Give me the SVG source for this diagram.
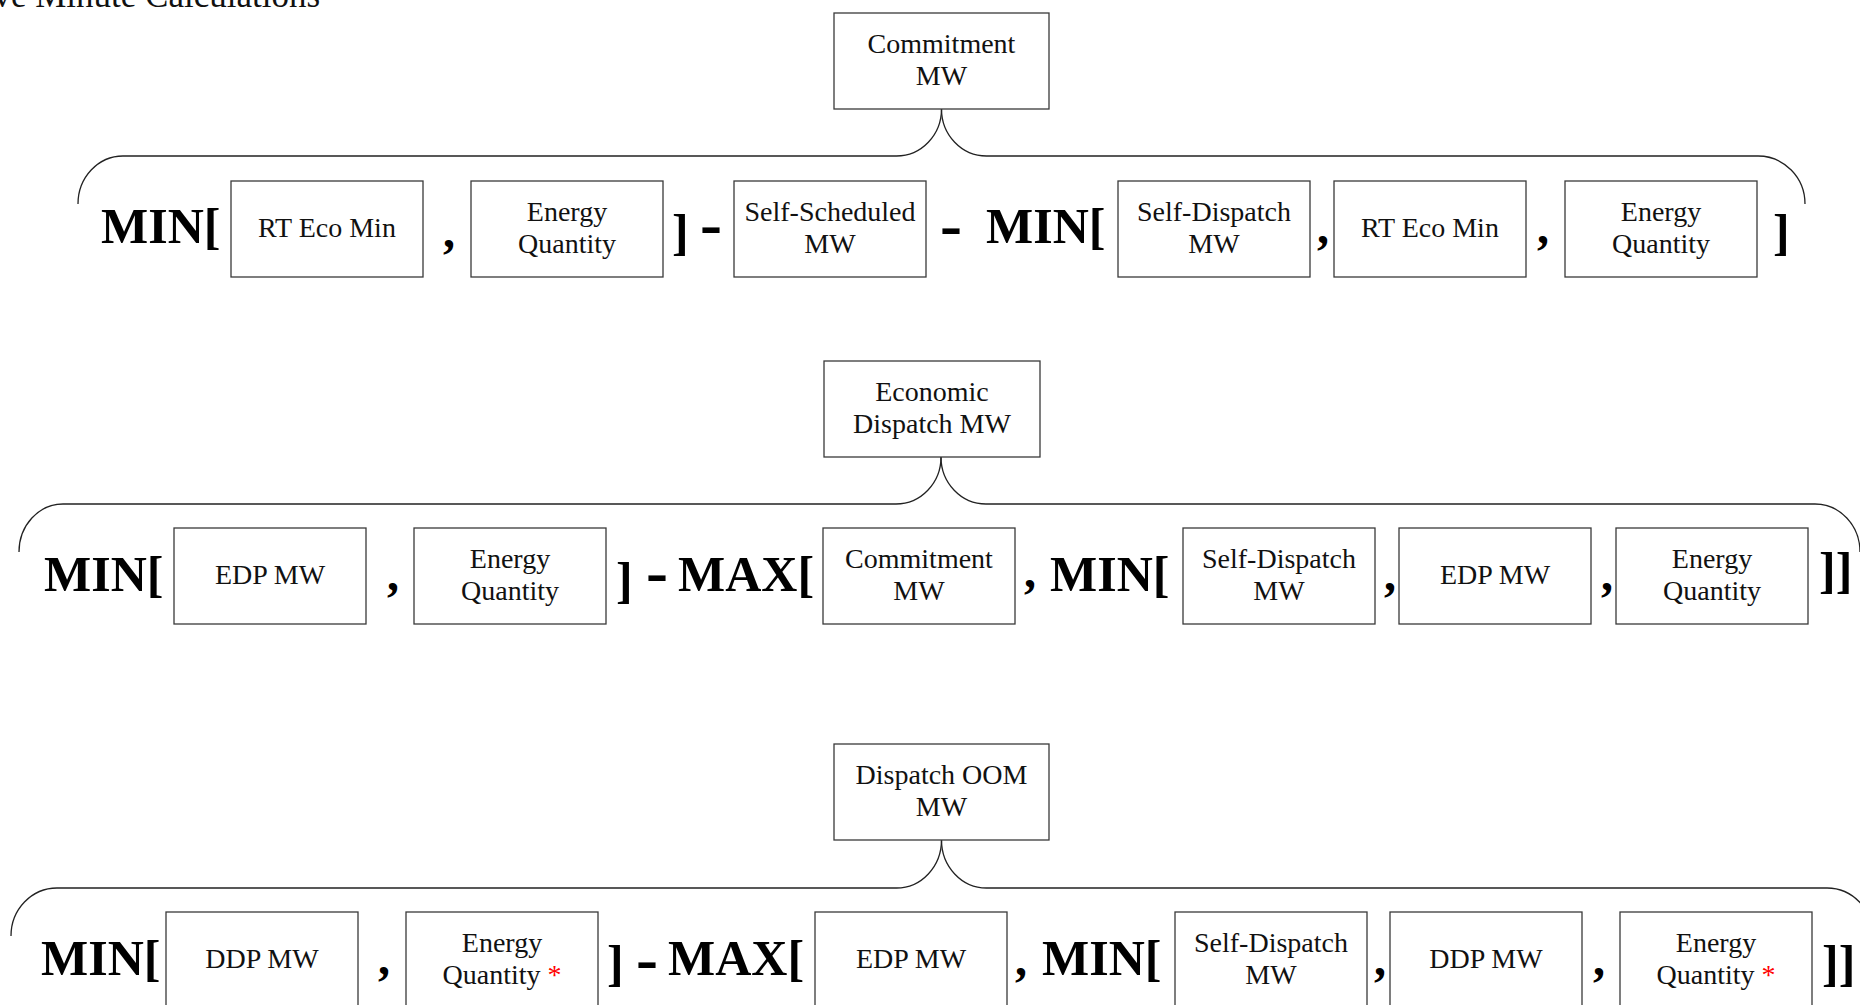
<svg xmlns="http://www.w3.org/2000/svg" width="1860" height="1005" viewBox="0 0 1860 1005">
  <style>
    .box { fill: #ffffff; stroke: #3a3a3a; stroke-width: 1.3; }
    .lbl { font-family: "Liberation Serif", "Times New Roman", serif; font-size: 28px; text-anchor: middle; fill: #111111; }
    .op { font-family: "Liberation Serif", "Times New Roman", serif; font-weight: bold; font-size: 50px; fill: #000000; }
    .dash { font-family: "Liberation Serif", "Times New Roman", serif; font-weight: bold; font-size: 66px; fill: #000000; }
    .cm { font-family: "Liberation Serif", "Times New Roman", serif; font-weight: bold; font-size: 48px; fill: #000000; }
    .brace { fill: none; stroke: #222222; stroke-width: 1.3; }
    .star { fill: #ff0000; }
    .title { font-family: "Liberation Serif", "Times New Roman", serif; font-size: 35px; fill: #111111; text-anchor: end; }
  </style>

  <rect x="0" y="0" width="1860" height="1005" fill="#ffffff"/>

  <text class="title" x="320" y="7">Five Minute Calculations</text>

  <!-- braces joining each result box to its formula row -->
  <g id="connectors">
    <path class="brace" d="M78,204 A45,48 0 0 1 123,156 L896.5,156 A45,47 0 0 0 941.5,109"/>
    <path class="brace" d="M941.5,109 A45,47 0 0 0 986.5,156 L1758,156 A47,48 0 0 1 1805,204"/>

    <path class="brace" d="M19,552 A44,48 0 0 1 63,504 L896,504 A45,47 0 0 0 941,457"/>
    <path class="brace" d="M941,457 A45,47 0 0 0 986,504 L1815,504 A45,48 0 0 1 1860,552"/>

    <path class="brace" d="M11,936 A46,48 0 0 1 57,888 L896.5,888 A45,48 0 0 0 941.5,840"/>
    <path class="brace" d="M941.5,840 A45,48 0 0 0 986.5,888 L1827,888 A46,48 0 0 1 1873,936"/>
  </g>

  <!-- Row 1: Commitment MW -->
  <g id="commitment-mw">
    <rect class="box" x="834" y="13" width="215" height="96"/>
    <text class="lbl" x="941.5" y="53">Commitment</text>
    <text class="lbl" x="941.5" y="85">MW</text>
  </g>
  <g id="r1-rt-eco-min-a">
    <rect class="box" x="231" y="181" width="192" height="96"/>
    <text class="lbl" x="327" y="237">RT Eco Min</text>
  </g>
  <g id="r1-energy-qty-a">
    <rect class="box" x="471" y="181" width="192" height="96"/>
    <text class="lbl" x="567" y="221">Energy</text>
    <text class="lbl" x="567" y="253">Quantity</text>
  </g>
  <g id="r1-self-scheduled">
    <rect class="box" x="734" y="181" width="192" height="96"/>
    <text class="lbl" x="830" y="221">Self-Scheduled</text>
    <text class="lbl" x="830" y="253">MW</text>
  </g>
  <g id="r1-self-dispatch">
    <rect class="box" x="1118" y="181" width="192" height="96"/>
    <text class="lbl" x="1214" y="221">Self-Dispatch</text>
    <text class="lbl" x="1214" y="253">MW</text>
  </g>
  <g id="r1-rt-eco-min-b">
    <rect class="box" x="1334" y="181" width="192" height="96"/>
    <text class="lbl" x="1430" y="237">RT Eco Min</text>
  </g>
  <g id="r1-energy-qty-b">
    <rect class="box" x="1565" y="181" width="192" height="96"/>
    <text class="lbl" x="1661" y="221">Energy</text>
    <text class="lbl" x="1661" y="253">Quantity</text>
  </g>
  <g id="r1-operators">
    <text class="op" x="101" y="243">MIN[</text>
    <text class="cm" x="443" y="247">,</text>
    <text class="op" x="672" y="249">]</text>
    <text class="dash" x="700" y="246">-</text>
    <text class="dash" x="940" y="247">-</text>
    <text class="op" x="986" y="243">MIN[</text>
    <text class="cm" x="1317" y="243">,</text>
    <text class="cm" x="1537" y="243">,</text>
    <text class="op" x="1773" y="249">]</text>
  </g>

  <!-- Row 2: Economic Dispatch MW -->
  <g id="economic-dispatch-mw">
    <rect class="box" x="824" y="361" width="216" height="96"/>
    <text class="lbl" x="932" y="401">Economic</text>
    <text class="lbl" x="932" y="433">Dispatch MW</text>
  </g>
  <g id="r2-edp-a">
    <rect class="box" x="174" y="528" width="192" height="96"/>
    <text class="lbl" x="270" y="584">EDP MW</text>
  </g>
  <g id="r2-energy-qty-a">
    <rect class="box" x="414" y="528" width="192" height="96"/>
    <text class="lbl" x="510" y="568">Energy</text>
    <text class="lbl" x="510" y="600">Quantity</text>
  </g>
  <g id="r2-commitment">
    <rect class="box" x="823" y="528" width="192" height="96"/>
    <text class="lbl" x="919" y="568">Commitment</text>
    <text class="lbl" x="919" y="600">MW</text>
  </g>
  <g id="r2-self-dispatch">
    <rect class="box" x="1183" y="528" width="192" height="96"/>
    <text class="lbl" x="1279" y="568">Self-Dispatch</text>
    <text class="lbl" x="1279" y="600">MW</text>
  </g>
  <g id="r2-edp-b">
    <rect class="box" x="1399" y="528" width="192" height="96"/>
    <text class="lbl" x="1495" y="584">EDP MW</text>
  </g>
  <g id="r2-energy-qty-b">
    <rect class="box" x="1616" y="528" width="192" height="96"/>
    <text class="lbl" x="1712" y="568">Energy</text>
    <text class="lbl" x="1712" y="600">Quantity</text>
  </g>
  <g id="r2-operators">
    <text class="op" x="44" y="591">MIN[</text>
    <text class="cm" x="387" y="590">,</text>
    <text class="op" x="616" y="597">]</text>
    <text class="dash" x="646" y="594">-</text>
    <text class="op" x="678" y="591">MAX[</text>
    <text class="cm" x="1024" y="587">,</text>
    <text class="op" x="1050" y="591">MIN[</text>
    <text class="cm" x="1384" y="590">,</text>
    <text class="cm" x="1601" y="590">,</text>
    <text class="op" x="1819" y="587">]]</text>
  </g>

  <!-- Row 3: Dispatch OOM MW -->
  <g id="dispatch-oom-mw">
    <rect class="box" x="834" y="744" width="215" height="96"/>
    <text class="lbl" x="941.5" y="784">Dispatch OOM</text>
    <text class="lbl" x="941.5" y="816">MW</text>
  </g>
  <g id="r3-ddp-a">
    <rect class="box" x="166" y="912" width="192" height="96"/>
    <text class="lbl" x="262" y="968">DDP MW</text>
  </g>
  <g id="r3-energy-qty-a">
    <rect class="box" x="406" y="912" width="192" height="96"/>
    <text class="lbl" x="502" y="952">Energy</text>
    <text class="lbl" x="502" y="984">Quantity <tspan class="star">*</tspan></text>
  </g>
  <g id="r3-edp">
    <rect class="box" x="815" y="912" width="192" height="96"/>
    <text class="lbl" x="911" y="968">EDP MW</text>
  </g>
  <g id="r3-self-dispatch">
    <rect class="box" x="1175" y="912" width="192" height="96"/>
    <text class="lbl" x="1271" y="952">Self-Dispatch</text>
    <text class="lbl" x="1271" y="984">MW</text>
  </g>
  <g id="r3-ddp-b">
    <rect class="box" x="1390" y="912" width="192" height="96"/>
    <text class="lbl" x="1486" y="968">DDP MW</text>
  </g>
  <g id="r3-energy-qty-b">
    <rect class="box" x="1620" y="912" width="192" height="96"/>
    <text class="lbl" x="1716" y="952">Energy</text>
    <text class="lbl" x="1716" y="984">Quantity <tspan class="star">*</tspan></text>
  </g>
  <g id="r3-operators">
    <text class="op" x="41" y="975">MIN[</text>
    <text class="cm" x="378" y="974">,</text>
    <text class="op" x="607" y="980">]</text>
    <text class="dash" x="636" y="981">-</text>
    <text class="op" x="668" y="975">MAX[</text>
    <text class="cm" x="1015" y="975">,</text>
    <text class="op" x="1042" y="975">MIN[</text>
    <text class="cm" x="1374" y="975">,</text>
    <text class="cm" x="1593" y="975">,</text>
    <text class="op" x="1822" y="980">]]</text>
  </g>
</svg>
